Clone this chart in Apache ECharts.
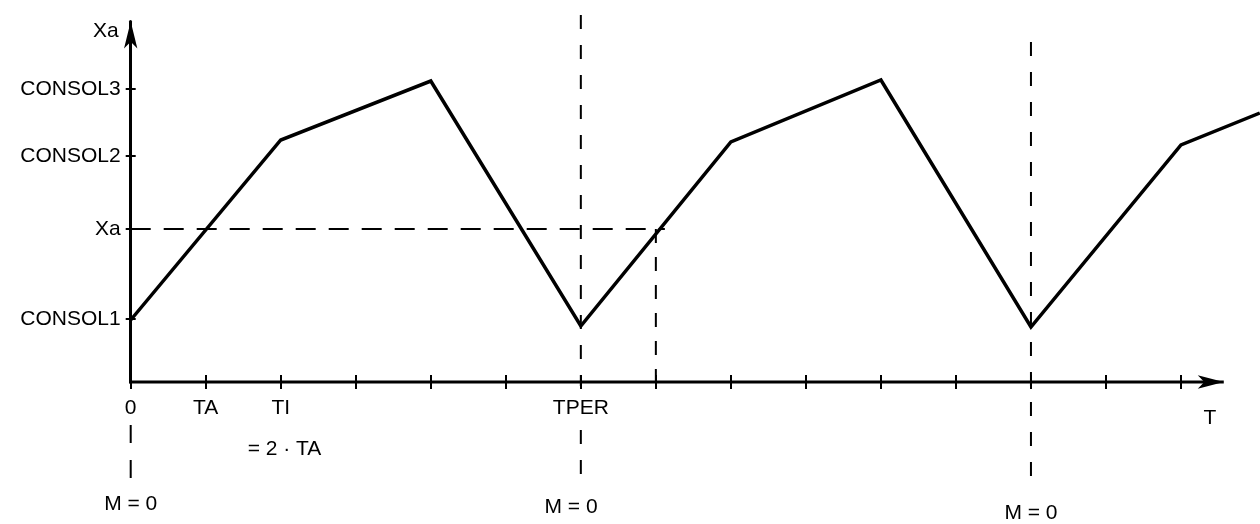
<!DOCTYPE html>
<html>
<head>
<meta charset="utf-8">
<script src="https://cdn.jsdelivr.net/npm/echarts@6/dist/echarts.min.js"></script>
<style>
  html, body { margin: 0; padding: 0; background: #ffffff; }
  #chart { width: 1260px; height: 524px; }
</style>
</head>
<body>
<div id="chart"></div>
<script>
// ---- data ----
const tValues  = [0, 2, 4, 6, 8, 10, 12, 14, 15.05];
const xaValues = [62, 242, 301, 56, 240, 302, 55, 237, 269];

const xTickValues = [0, 1, 2, 3, 4, 5, 6, 7, 8, 9, 10, 11, 12, 13, 14];
const xTickLabels = { 0: '0', 1: 'TA', 2: 'TI', 6: 'TPER' };

const yTickValues = [63, 153, 226, 293];
const yTickLabels = { 63: 'CONSOL1', 153: 'Xa', 226: 'CONSOL2', 293: 'CONSOL3' };

const xaLevel = 153;
const xaCrossT = 7;
const xaLineEndT = 7.12;
const tAxisStart = -0.07;
const tAxisEnd = 14.57;

// vertical "M = 0" marker segments: [t, from, to]
const mSegments = [
  [0, -43, -101],
  [6, 367, -4],
  [6, -48, -103],
  [12, 340, -110]
];

const notes = [
  { value: [2.05, -67], name: '= 2 · TA' },
  { value: [0, -122], name: 'M = 0' },
  { value: [5.87, -125], name: 'M = 0' },
  { value: [12, -131], name: 'M = 0' }
];

// ---- chart ----
const FONT = '"Liberation Sans", Arial, sans-serif';
const txt = { color: '#000', fontFamily: FONT, fontSize: 21 };
const xMax = 15.053, yMax = 360.5;

const chart = echarts.init(document.getElementById('chart'), null, { renderer: 'canvas' });

const dashed = (data, dash, w) => ({
  type: 'line', data: data, symbol: 'none', clip: false, silent: true,
  lineStyle: { color: '#000', width: w, type: dash }, z: 1
});

const series = [
  {
    type: 'line', name: 'Xa',
    data: tValues.map((t, i) => [t, xaValues[i]]),
    symbol: 'none', clip: false, silent: true,
    lineStyle: { color: '#000', width: 3.5, join: 'miter' }, z: 3
  },
  // time axis line
  {
    type: 'line', data: [[tAxisStart, 0], [tAxisEnd, 0]], symbol: 'none', clip: false, silent: true,
    lineStyle: { color: '#000', width: 3 }, z: 4
  },
  // time axis arrow head
  {
    type: 'line', data: [[tAxisEnd, 0]], symbol: 'arrow', symbolSize: [10, 26], symbolRotate: -90,
    showSymbol: true, clip: false, silent: true,
    itemStyle: { color: '#000', borderWidth: 0 }, lineStyle: { width: 0 }, z: 5
  },
  dashed([[0, xaLevel], [xaLineEndT, xaLevel]], [20, 13], 2.2),
  dashed([[xaCrossT, xaLevel], [xaCrossT, 0]], [14, 14], 2)
];
mSegments.forEach((m, i) => series.push(dashed([[m[0], m[1]], [m[0], m[2]]], i === 0 ? [18, 17] : [14, 16], 2)));
series.push({
  type: 'scatter', data: notes, symbolSize: 1, clip: false, silent: true,
  itemStyle: { color: 'rgba(0,0,0,0)', opacity: 1 },
  label: { show: true, position: 'inside', formatter: '{b}', opacity: 1, ...txt }
});

const option = {
  backgroundColor: '#ffffff',
  animation: false,
  grid: { left: 130.7, right: 0, top: 21.5, bottom: 142, containLabel: false },
  xAxis: [
    {
      type: 'value', min: 0, max: xMax, position: 'bottom',
      name: 'T', nameLocation: 'end', nameGap: -50,
      nameTextStyle: { ...txt, align: 'center', verticalAlign: 'top', padding: [26, 0, 0, 0] },
      axisLine: { show: false, onZero: false },
      axisTick: { show: true, customValues: xTickValues, length: 7, lineStyle: { color: '#000', width: 2 } },
      axisLabel: { show: true, customValues: xTickValues, margin: 16, ...txt,
                   formatter: v => (xTickLabels[v] !== undefined ? xTickLabels[v] : '') },
      splitLine: { show: false }
    },
    {
      type: 'value', min: 0, max: xMax, position: 'bottom',
      axisLine: { show: false },
      axisTick: { show: true, inside: true, customValues: xTickValues, length: 7, lineStyle: { color: '#000', width: 2 } },
      axisLabel: { show: false },
      splitLine: { show: false }
    }
  ],
  yAxis: [
    {
      type: 'value', min: 0, max: yMax, position: 'left',
      name: 'Xa', nameLocation: 'end', nameGap: -10,
      nameTextStyle: { ...txt, align: 'right', verticalAlign: 'middle', padding: [0, 12, 0, 0] },
      axisLine: { show: true, onZero: false, symbol: ['none', 'arrow'], symbolSize: [10, 27],
                  lineStyle: { color: '#000', width: 3 } },
      axisTick: { show: true, customValues: yTickValues, length: 5, lineStyle: { color: '#000', width: 2 } },
      axisLabel: { show: true, customValues: yTickValues, margin: 10, ...txt,
                   formatter: v => (yTickLabels[v] !== undefined ? yTickLabels[v] : '') },
      splitLine: { show: false }
    },
    {
      type: 'value', min: 0, max: yMax, position: 'left',
      axisLine: { show: false },
      axisTick: { show: true, inside: true, customValues: yTickValues, length: 5, lineStyle: { color: '#000', width: 2 } },
      axisLabel: { show: false },
      splitLine: { show: false }
    }
  ],
  series: series
};

chart.setOption(option);
</script>
</body>
</html>
